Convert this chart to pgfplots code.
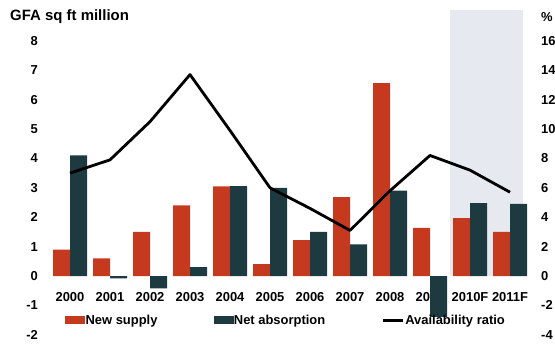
\documentclass[border=0pt]{standalone}
\usepackage{pgfplots}
\pgfplotsset{compat=1.18}
\usepackage{fontspec}
\setmainfont{Liberation Sans}
\definecolor{supplyred}{HTML}{C53A1F}
\definecolor{absdark}{HTML}{1C3A3F}
\definecolor{bgshade}{HTML}{E6E9EF}
\pgfplotsset{base/.style={scale only axis, width=484bp, height=337bp,
  at={(48bp,5bp)}, anchor=south west, xmin=-0.55, xmax=11.55,
  axis line style={draw=none}, major tick length=0pt, clip=false,
  tick label style={font=\bfseries\fontsize{13}{13}\selectfont}}}
\begin{document}
\begin{tikzpicture}[x=1bp,y=1bp]
\path[use as bounding box] (0,0) rectangle (555,350);
% background axis: shading, x labels, left ticks
\begin{axis}[base, ymin=-2.347, ymax=9.116,
  xtick={0,...,11},
  xticklabels={2000,2001,2002,2003,2004,2005,2006,2007,2008,2009,2010F,2011F},
  xticklabel style={anchor=center, inner sep=0pt, yshift=48bp},
  ytick={-2,-1,0,1,2,3,4,5,6,7,8},
  yticklabels={-2,-1,0,1,2,3,4,5,6,7,8},
  yticklabel style={anchor=east, inner sep=0pt, xshift=-10bp}]
\fill[fill=bgshade] (axis cs:9.5,0) rectangle (axis cs:11.33,9.05);
\end{axis}
% bars
\begin{axis}[base, ymin=-2.347, ymax=9.116, xtick=\empty, ytick=\empty,
  ybar=0pt, bar width=17bp]
\addplot[fill=supplyred, draw=none] coordinates {
 (0,0.9) (1,0.6) (2,1.5) (3,2.4) (4,3.05) (5,0.4) (6,1.22) (7,2.68) (8,6.56) (9,1.64) (10,1.97) (11,1.5)};
\addplot[fill=absdark, draw=none] coordinates {
 (0,4.1) (1,-0.08) (2,-0.42) (3,0.3) (4,3.06) (5,3.0) (6,1.5) (7,1.08) (8,2.9) (9,-1.39) (10,2.48) (11,2.45)};
\end{axis}
% line on right axis
\begin{axis}[base, ymin=-4.694, ymax=18.232, xtick=\empty,
  ytick={-4,-2,0,2,4,6,8,10,12,14,16},
  yticklabels={-4,-2,0,2,4,6,8,10,12,14,16},
  yticklabel pos=right,
  yticklabel style={anchor=west, inner sep=0pt, xshift=9bp},
  legend columns=3,
  legend style={draw=none, fill=none, at={(0.035,0.074)}, anchor=west,
    inner sep=0pt, font=\bfseries\fontsize{13}{13}\selectfont,
    nodes={inner sep=1bp},
    /tikz/every even column/.append style={column sep=55bp}},
  legend cell align=left]
\addlegendimage{legend image code/.code={\fill[supplyred] (0bp,-3.5bp) rectangle (19bp,3.5bp);}}
\addlegendentry{New supply}
\addlegendimage{legend image code/.code={\fill[absdark] (0bp,-3.5bp) rectangle (19bp,3.5bp);}}
\addlegendentry{Net absorption}
\addlegendimage{legend image code/.code={\draw[black, line width=3bp] (0bp,0bp) -- (20bp,0bp);}}
\addlegendentry{Availability ratio}
\addplot[black, line width=2.8bp, line join=round, no marks] coordinates {
 (0,7.0) (1,7.9) (2,10.5) (3,13.7) (4,9.9) (5,6.0) (6,4.6) (7,3.1) (8,5.8) (9,8.2) (10,7.2) (11,5.7)};
\end{axis}
\node[anchor=west, inner sep=0pt, font=\bfseries\fontsize{15}{15}\selectfont] at (10,333) {GFA sq ft million};
\node[anchor=west, inner sep=0pt, font=\bfseries\fontsize{13}{13}\selectfont] at (541,333) {\%};
\end{tikzpicture}
\end{document}
